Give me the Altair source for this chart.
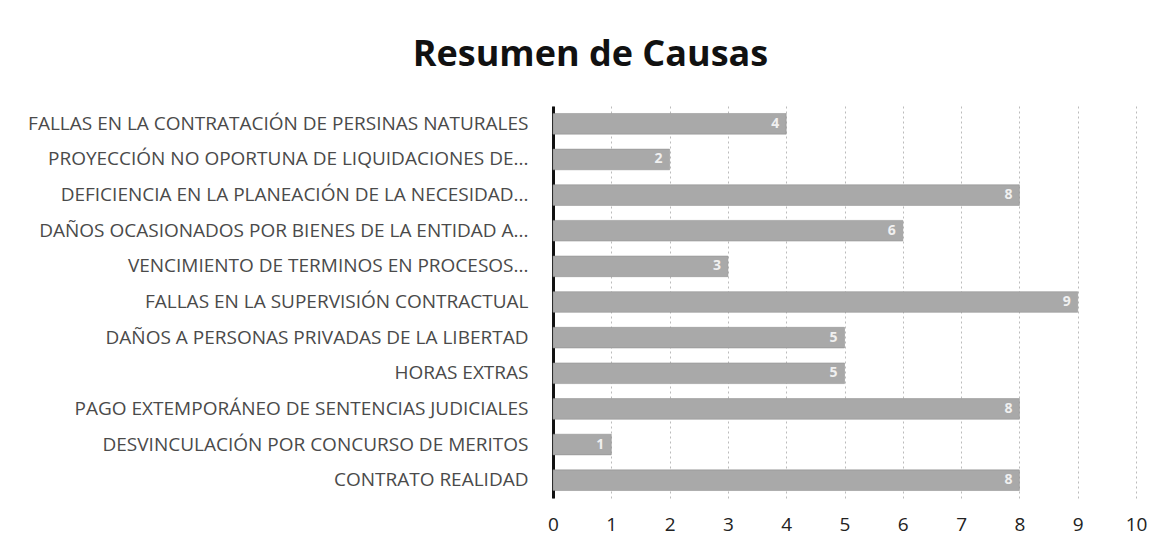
import altair as alt
import pandas as pd

causas = [
    "FALLAS EN LA CONTRATACIÓN DE PERSINAS NATURALES",
    "PROYECCIÓN NO OPORTUNA DE  LIQUIDACIONES DE...",
    "DEFICIENCIA EN LA PLANEACIÓN DE LA NECESIDAD...",
    "DAÑOS OCASIONADOS POR BIENES DE LA ENTIDAD A...",
    "VENCIMIENTO DE TERMINOS EN PROCESOS...",
    "FALLAS EN LA SUPERVISIÓN CONTRACTUAL",
    "DAÑOS A PERSONAS PRIVADAS DE LA LIBERTAD",
    "HORAS EXTRAS",
    "PAGO EXTEMPORÁNEO DE SENTENCIAS JUDICIALES",
    "DESVINCULACIÓN POR CONCURSO DE MERITOS",
    "CONTRATO REALIDAD",
]
valores = [4, 2, 8, 6, 3, 9, 5, 5, 8, 1, 8]
ticks = [0, 1, 2, 3, 4, 5, 6, 7, 8, 9, 10]

df = pd.DataFrame({"causa": causas, "valor": valores})

FONT = "Open Sans"

y_enc = alt.Y(
    "causa:N",
    sort=causas,
    scale=alt.Scale(paddingInner=0.42, paddingOuter=0.21),
    axis=alt.Axis(
        title=None,
        domain=True,
        domainColor="#111111",
        domainWidth=3,
        ticks=False,
        labelPadding=25,
        labelFontSize=19,
        labelFont=FONT,
        labelColor="#4a4a4a",
        labelLimit=700,
        grid=False,
    ),
)
x_enc = alt.X(
    "valor:Q",
    scale=alt.Scale(domain=[0, 10], nice=False),
    axis=alt.Axis(
        title=None,
        values=ticks,
        format="d",
        domain=False,
        ticks=False,
        labelFlush=False,
        labelPadding=17,
        labelFontSize=19,
        labelFont=FONT,
        labelColor="#222222",
        grid=True,
        gridColor="#bbbbbb",
        gridDash=[2, 3],
        gridWidth=1,
    ),
)

bars = alt.Chart(df).mark_bar(color="#a9a9a9", stroke="#8a8a8a", strokeWidth=0.5).encode(
    y=y_enc, x=x_enc
)
labels = alt.Chart(df).mark_text(
    align="right", dx=-7, fontSize=14, font=FONT, color="#f0f0f0", fontWeight="bold"
).encode(
    y=y_enc,
    x=x_enc,
    text="valor:Q",
)

chart = (
    alt.layer(bars, labels)
    .properties(
        width=583,
        height=392,
        view=alt.ViewBackground(stroke="transparent", strokeOpacity=0, strokeWidth=0),
        title=alt.TitleParams(
            "Resumen de Causas",
            fontSize=36,
            font="Open Sans",
            fontWeight="bold",
            color="#111111",
            anchor="middle",
            frame="group",
            dx=-254,
            offset=32,
        ),
        autosize=alt.AutoSizeParams(type="none"),
        padding={"left": 545, "top": 98, "right": 20, "bottom": 50},
    )
    .configure_view(strokeOpacity=0, strokeWidth=0)
    .configure_axisX(domain=False)
    .configure(background="white")
)

chart.save("out.html", embed_options={"renderer": "svg", "actions": False})
